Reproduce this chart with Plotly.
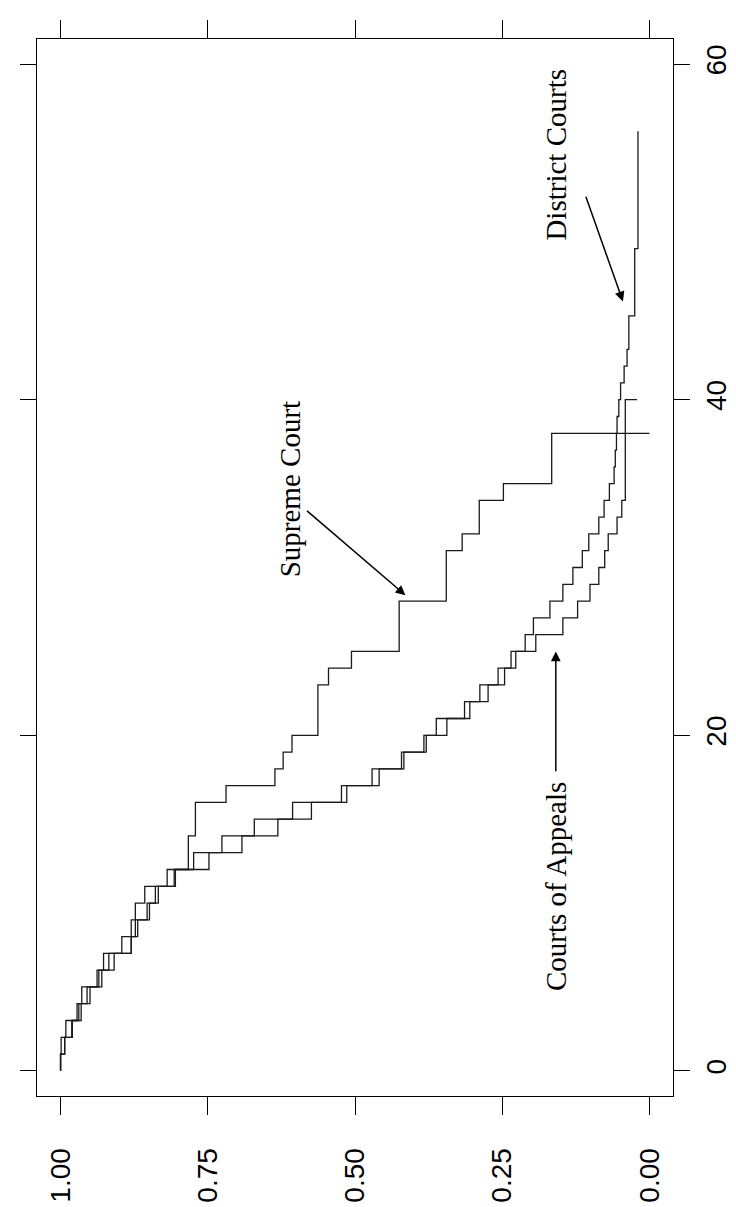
import plotly.graph_objects as go

# Supreme Court: event times and survival after each event
sc_time = [0, 1, 2, 3, 4, 5, 6, 7, 8, 9, 10, 11, 12, 14, 16, 17, 18, 19, 20, 23, 24, 25, 28, 31, 32, 34, 35, 38]
sc_surv = [1.0, 0.999, 0.991, 0.972, 0.964, 0.938, 0.927, 0.896, 0.880, 0.873, 0.857, 0.819, 0.783, 0.771,
           0.719, 0.636, 0.622, 0.607, 0.563, 0.545, 0.506, 0.425, 0.345, 0.318, 0.289, 0.248, 0.166, 0.0]

# Courts of Appeals
ca_time = [0, 1, 2, 3, 4, 5, 6, 7, 8, 9, 10, 11, 12, 13, 14, 15, 16, 17, 18, 19, 20, 21, 22, 23, 24, 25,
           26, 27, 28, 29, 30, 31, 32, 33, 34, 40]
ca_surv = [1.0, 0.993, 0.980, 0.965, 0.950, 0.930, 0.909, 0.880, 0.869, 0.849, 0.834, 0.805, 0.748, 0.692,
           0.631, 0.574, 0.514, 0.459, 0.417, 0.379, 0.344, 0.305, 0.274, 0.246, 0.227, 0.193, 0.147, 0.122,
           0.101, 0.086, 0.076, 0.070, 0.055, 0.047, 0.041, 0.021]

# District Courts
dc_time = [0, 1, 2, 3, 4, 5, 6, 7, 8, 9, 10, 11, 12, 13, 14, 15, 16, 17, 18, 19, 20, 21, 22, 23, 24, 25,
           26, 27, 28, 29, 30, 31, 32, 33, 34, 35, 36, 37, 38, 39, 40, 41, 42, 43, 45, 49, 56]
dc_surv = [1.0, 0.993, 0.981, 0.969, 0.955, 0.935, 0.918, 0.880, 0.873, 0.853, 0.839, 0.807, 0.774, 0.726,
           0.671, 0.606, 0.523, 0.471, 0.421, 0.383, 0.362, 0.314, 0.288, 0.257, 0.235, 0.211, 0.197, 0.169,
           0.147, 0.130, 0.114, 0.103, 0.086, 0.077, 0.068, 0.060, 0.058, 0.056, 0.055, 0.052, 0.049, 0.043,
           0.038, 0.035, 0.025, 0.0195, 0.0195]

surv_ticks = [1.0, 0.75, 0.5, 0.25, 0.0]
surv_labels = ["1.00", "0.75", "0.50", "0.25", "0.00"]
time_ticks = [0, 20, 40, 60]
time_labels = ["0", "20", "40", "60"]

line_style = dict(color="#1a1a1a", width=1.3, shape="vh")

fig = go.Figure()
for t, s, name in [(sc_time, sc_surv, "Supreme Court"),
                   (ca_time, ca_surv, "Courts of Appeals"),
                   (dc_time, dc_surv, "District Courts")]:
    fig.add_trace(go.Scatter(x=s, y=t, mode="lines", line=line_style, name=name,
                             showlegend=False, hoverinfo="skip"))

serif = dict(family="Liberation Serif, Times New Roman, serif", size=29, color="black")

annotations = [
    dict(x=0.609, y=34.65, text="Supreme Court", textangle=-90, showarrow=False, font=serif),
    dict(x=0.159, y=11.0, text="Courts of Appeals", textangle=-90, showarrow=False, font=serif),
    dict(x=0.159, y=54.6, text="District Courts", textangle=-90, showarrow=False, font=serif),
    # arrows (tail -> tip)
    dict(x=0.4144, y=28.35, ax=0.584, ay=33.45, axref="x", ayref="y", text="", showarrow=True,
         arrowhead=2, arrowsize=1.3, arrowwidth=1.5, arrowcolor="black", standoff=0, startstandoff=0),
    dict(x=0.159, y=25.0, ax=0.159, ay=17.76, axref="x", ayref="y", text="", showarrow=True,
         arrowhead=2, arrowsize=1.3, arrowwidth=1.5, arrowcolor="black", standoff=0, startstandoff=0),
    dict(x=0.045, y=45.86, ax=0.1088, ay=52.18, axref="x", ayref="y", text="", showarrow=True,
         arrowhead=2, arrowsize=1.3, arrowwidth=1.5, arrowcolor="black", standoff=0, startstandoff=0),
]

tickfont = dict(family="Liberation Sans, Arial, sans-serif", size=28, color="black")

fig.update_layout(
    width=736, height=1207,
    margin=dict(l=26, r=45, t=22, b=114),
    paper_bgcolor="white", plot_bgcolor="white",
    annotations=annotations,
    hovermode=False,
    xaxis=dict(range=[1.04, -0.04], tickvals=surv_ticks, ticktext=surv_labels, tickangle=-90,
               ticks="outside", ticklen=18, tickwidth=1, tickcolor="black",
               showline=True, linecolor="black", linewidth=1, mirror="ticks",
               showgrid=False, zeroline=False, tickfont=tickfont, ticklabelstandoff=22),
    yaxis=dict(range=[-1.5, 61.5], tickvals=time_ticks, ticktext=time_labels, tickangle=-90,
               side="right", ticks="outside", ticklen=16, tickwidth=1, tickcolor="black",
               showline=True, linecolor="black", linewidth=1, mirror="ticks",
               showgrid=False, zeroline=False, tickfont=tickfont, ticklabelstandoff=2),
)

fig.write_html("out.html")
